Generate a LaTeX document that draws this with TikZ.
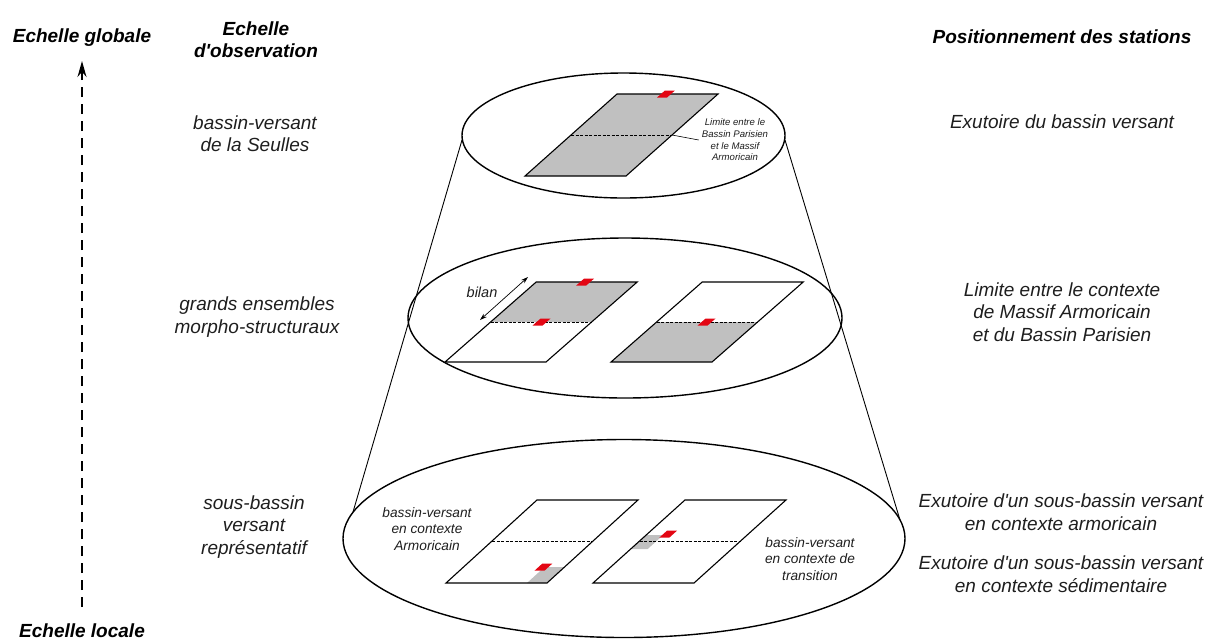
\documentclass[tikz,border=0pt]{standalone}
\usepackage{fontspec}
\setmainfont{Liberation Sans}[Ligatures=TeXOff]
\usetikzlibrary{arrows.meta}
\definecolor{redmark}{RGB}{227,6,19}
\definecolor{fillgray}{RGB}{192,192,192}
\definecolor{txt}{RGB}{30,30,30}
\newcommand\redmk[2]{\fill[redmark] (#1-5,-#2+3.5) -- (#1+5,-#2+3.5) -- (#1+5,-#2-3.5) -- (#1-5,-#2-3.5) -- cycle;}
\begin{document}
\begin{tikzpicture}[x=1pt,y=-1pt,
  hdr/.style={font=\fontsize{19}{22}\selectfont\bfseries\itshape, align=center, inner sep=0pt, text=black},
  lbl/.style={font=\fontsize{19}{22.5}\selectfont\itshape, align=center, inner sep=0pt, text=txt},
  smalllbl/.style={font=\fontsize{13.7}{16.5}\selectfont\itshape, align=center, inner sep=0pt, text=txt},
  tinylbl/.style={font=\fontsize{9.6}{11.7}\selectfont\itshape, align=center, inner sep=0pt, text=txt},
  ell/.style={draw, line width=1.4pt},
  cone/.style={draw, line width=0.9pt},
  parab/.style={draw, line width=1.1pt, line join=miter},
  middash/.style={draw, line width=0.8pt, dash pattern=on 3pt off 1.5pt},
]
\useasboundingbox (0,0) rectangle (1209,641);

% cone lines
\coordinate (cL1) at (462,140);
\coordinate (cL2) at (353,512);
\coordinate (cR1) at (785,140);
\coordinate (cR2) at (900,520);
\draw[cone] (cL1) -- (cL2);
\draw[cone] (cR1) -- (cR2);

% ellipses
\draw[ell] (623.5,135.5) ellipse [x radius=161.5, y radius=62.5];
\draw[ell] (625,318) ellipse [x radius=217, y radius=80];
\draw[ell] (624,538.5) ellipse [x radius=281, y radius=99];

% top parallelogram
\begin{scope}[shift={(525,176)}, xslant=1.122]
  \fill[fillgray] (0,0) -- (101,0) -- (101,-82) -- (0,-82) -- cycle;
  \draw[middash] (0,-41) -- (101,-41);
  \draw[parab] (0,0) -- (101,0) -- (101,-82) -- (0,-82) -- cycle;
  \redmk{49}{82}
  \coordinate (tdash) at (101,-41);
\end{scope}
\node[tinylbl] (lim) at (735,140) {Limite entre le\\Bassin Parisien\\et le Massif\\Armoricain};
\draw[line width=0.6pt] (tdash) -- ([xshift=-3pt]lim.west);

% middle left parallelogram
\begin{scope}[shift={(445,362)}, xslant=1.14]
  \fill[fillgray] (0,-40) -- (101,-40) -- (101,-80) -- (0,-80) -- cycle;
  \draw[middash] (0,-40) -- (101,-40);
  \draw[parab] (0,0) -- (101,0) -- (101,-80) -- (0,-80) -- cycle;
  \redmk{49}{80}
  \redmk{51}{40}
\end{scope}
% middle right parallelogram
\begin{scope}[shift={(611,362)}, xslant=1.14]
  \fill[fillgray] (0,0) -- (101,0) -- (101,-40) -- (0,-40) -- cycle;
  \draw[middash] (0,-40) -- (101,-40);
  \draw[parab] (0,0) -- (101,0) -- (101,-80) -- (0,-80) -- cycle;
  \redmk{50}{40}
\end{scope}

% bilan arrow
\coordinate (bilA) at (480,320);
\coordinate (bilB) at (528,277);
\draw[line width=0.7pt, {Stealth[length=7pt,width=4.5pt]}-{Stealth[length=7pt,width=4.5pt]}] (bilA) -- (bilB);
\node[font=\fontsize{14.5}{17}\selectfont\itshape, inner sep=0pt, text=txt] (bil) at (482,292) {bilan};

% bottom left parallelogram
\begin{scope}[shift={(446,583)}, xslant=1.096]
  \fill[fillgray] (81,0) -- (101,0) -- (101,-16) -- (81,-16) -- cycle;
  \draw[middash] (0,-42) -- (101,-42);
  \draw[parab] (0,0) -- (101,0) -- (101,-83) -- (0,-83) -- cycle;
  \redmk{80}{16}
\end{scope}
% bottom right parallelogram
\begin{scope}[shift={(593,583)}, xslant=1.108]
  \fill[fillgray] (0,-34) -- (17,-34) -- (17,-48) -- (0,-48) -- cycle;
  \draw[middash] (0,-42) -- (101,-42);
  \draw[parab] (0,0) -- (101,0) -- (101,-83) -- (0,-83) -- cycle;
  \redmk{21}{49}
\end{scope}

\node[smalllbl] (b1) at (427,529) {bassin-versant\\en contexte\\Armoricain};
\node[smalllbl] (b2) at (810,559) {bassin-versant\\en contexte de\\transition};

% headers
\node[hdr] (eg) at (82,38) {Echelle globale};
\node[hdr] (eo) at (256,40) {Echelle\\d'observation};
\node[hdr] (ps) at (1062,37) {Positionnement des stations};
\node[hdr] (el) at (82,631) {Echelle locale};

% scale arrow
\coordinate (arrB) at (82,607);
\coordinate (arrT) at (82,61);
\draw[line width=1.4pt, dash pattern=on 10pt off 7pt, -{Stealth[length=16pt,width=9pt]}] (arrB) -- (arrT);

% left labels
\node[lbl] (l1) at (255,133.5) {bassin-versant\\de la Seulles};
\node[lbl] (l2) at (257,317) {grands ensembles\\morpho-structuraux};
\node[lbl] (l3) at (254,527) {sous-bassin\\versant\\représentatif};

% right labels
\node[lbl] (r1) at (1062,122) {Exutoire du bassin versant};
\node[lbl] (r2) at (1062,312) {Limite entre le contexte\\de Massif Armoricain\\et du Bassin Parisien};
\node[lbl] (r3) at (1061,512) {Exutoire d'un sous-bassin versant\\en contexte armoricain};
\node[lbl] (r4) at (1061,574) {Exutoire d'un sous-bassin versant\\en contexte sédimentaire};
\end{tikzpicture}
\end{document}
